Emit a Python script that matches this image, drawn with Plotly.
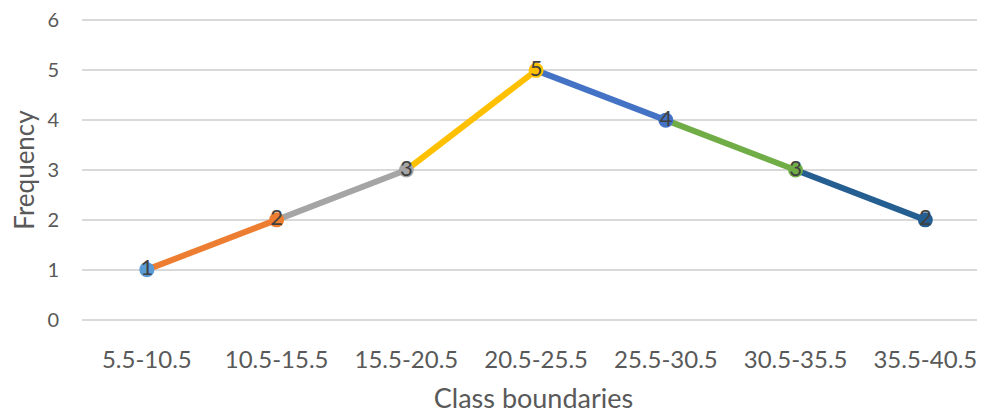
import plotly.graph_objects as go

# class boundaries and frequencies
categories = ["5.5-10.5", "10.5-15.5", "15.5-20.5", "20.5-25.5",
              "25.5-30.5", "30.5-35.5", "35.5-40.5"]
frequency = [1, 2, 3, 5, 4, 3, 2]
point_colors = ["#5B9BD5", "#ED7D31", "#A5A5A5", "#FFC000",
                "#4472C4", "#70AD47", "#255E91"]

fig = go.Figure()

# each segment takes the colour of the point it ends on (Excel "vary colours")
for i in range(1, len(categories)):
    fig.add_trace(go.Scatter(
        x=categories[i - 1:i + 1], y=frequency[i - 1:i + 1],
        mode="lines", line=dict(color=point_colors[i], width=6),
        hoverinfo="skip", showlegend=False, cliponaxis=False))

fig.add_trace(go.Scatter(
    x=categories, y=frequency, mode="markers+text",
    marker=dict(color=point_colors, size=15),
    text=[str(v) for v in frequency], textposition="middle center",
    textfont=dict(size=22, color="#404040"),
    showlegend=False, cliponaxis=False))

# page body has an 8px margin, so the figure is sized to fill what is left;
# y range padded a little so the 0 and 6 gridlines are not clipped away
fig.update_layout(
    width=977, height=406,
    margin=dict(l=74, r=0, t=10, b=92, autoexpand=False),
    paper_bgcolor="white", plot_bgcolor="white",
    font=dict(family="Lato, Open Sans, sans-serif", color="#595959", size=24),
    xaxis=dict(
        title=dict(text="Class boundaries", font=dict(size=27), standoff=18),
        range=[-0.5, 6.46],
        showgrid=False, showline=False, zeroline=False, automargin=False,
        tickfont=dict(size=24), ticks="", ticklabelstandoff=21,
        ticklabeloverflow="allow",
    ),
    yaxis=dict(
        title=dict(text="Frequency", font=dict(size=26), standoff=21),
        range=[-0.05, 6.05], tickvals=[0, 1, 2, 3, 4, 5, 6],
        showgrid=True, gridcolor="#D9D9D9", gridwidth=2,
        zeroline=False, showline=False, ticks="", tickfont=dict(size=20),
        ticklabelstandoff=22, automargin=False, ticklabeloverflow="allow",
    ),
)

fig.write_html("out.html")
